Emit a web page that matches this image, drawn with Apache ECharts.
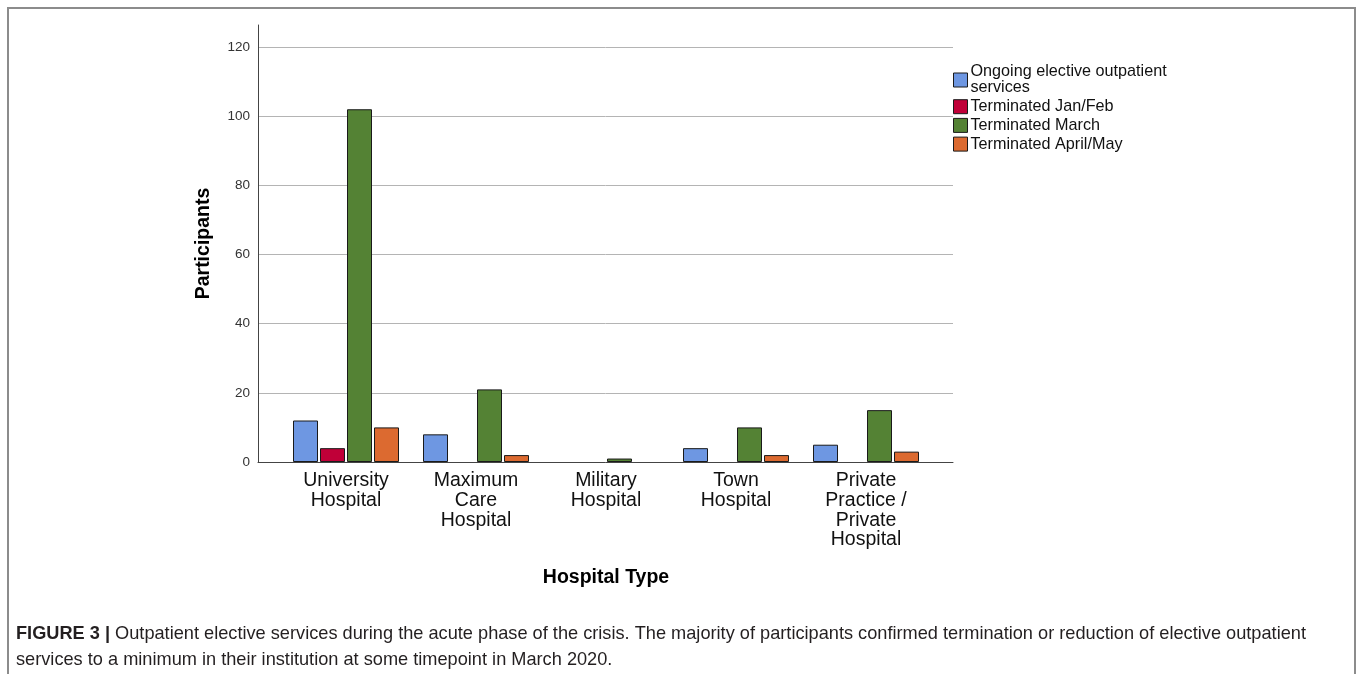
<!DOCTYPE html>
<html>
<head>
<meta charset="utf-8">
<script src="https://cdn.jsdelivr.net/npm/echarts@6/dist/echarts.min.js"></script>
<style>
  html, body { margin: 0; padding: 0; background: #fff; }
  #main { width: 1360px; height: 674px; }
</style>
</head>
<body>
<div id="main"></div>
<script>
// data
var categories = ['University\nHospital', 'Maximum\nCare\nHospital', 'Military\nHospital', 'Town\nHospital', 'Private\nPractice /\nPrivate\nHospital'];
var ongoing   = [12, 8, null, 4, 5];
var janFeb    = [4, null, null, null, null];
var march     = [102, 21, 1, 10, 15];
var aprilMay  = [10, 2, null, 2, 3];
var seriesNames = ['Ongoing elective outpatient\nservices', 'Terminated Jan/Feb', 'Terminated March', 'Terminated April/May'];
var colors = ['#6e97e2', '#c00038', '#548234', '#dc6a30'];
var yTicks = [0, 20, 40, 60, 80, 100, 120];

var FONT = '"Liberation Sans", Arial, sans-serif';
var myChart = echarts.init(document.getElementById('main'));

function barSeries(name, data, i) {
  return {
    name: name,
    type: 'bar',
    xAxisIndex: 1,
    yAxisIndex: 1,
    data: data,
    barWidth: 25,
    barGap: '8%',
    itemStyle: { color: colors[i], borderColor: '#1a1a1a', borderWidth: 1 },
    emphasis: { disabled: true }
  };
}

var option = {
  animation: false,
  textStyle: { fontFamily: FONT },
  grid: [
    { left: 258, top: 47, width: 695, height: 415 },   // gridlines + labels
    { left: 281, top: 47, width: 650, height: 415 },   // bars
    { left: 258, top: 25, width: 695, height: 437 }    // tall y axis line
  ],
  xAxis: [
    { gridIndex: 0, type: 'value', min: 0, max: 1,
      axisLine: { show: true, lineStyle: { color: '#444', width: 1 } },
      axisTick: { show: false }, axisLabel: { show: false }, splitLine: { show: false } },
    { gridIndex: 1, type: 'category', data: categories,
      name: 'Hospital Type', nameLocation: 'middle', nameGap: 106,
      nameTextStyle: { fontSize: 19.5, fontWeight: 'bold', color: '#000', fontFamily: FONT },
      axisLine: { show: false }, axisTick: { show: false },
      axisLabel: { fontSize: 19.5, lineHeight: 19.7, color: '#111', margin: 9, interval: 0, fontFamily: FONT } },
    { gridIndex: 2, type: 'value', show: false, min: 0, max: 1 }
  ],
  yAxis: [
    { gridIndex: 0, type: 'value', min: yTicks[0], max: yTicks[yTicks.length - 1], interval: 20,
      axisLine: { show: false }, axisTick: { show: false },
      axisLabel: { fontSize: 13.5, color: '#333', margin: 8, fontFamily: FONT },
      splitLine: { show: true, lineStyle: { color: '#b4b4b4', width: 1 } } },
    { gridIndex: 1, type: 'value', min: yTicks[0], max: yTicks[yTicks.length - 1], show: false },
    { gridIndex: 2, type: 'value', min: 0, max: 1,
      name: 'Participants', nameLocation: 'middle', nameGap: 44,
      nameTextStyle: { fontSize: 19.5, fontWeight: 'bold', color: '#000', fontFamily: FONT },
      axisLine: { show: true, lineStyle: { color: '#444', width: 1 } },
      axisTick: { show: false }, axisLabel: { show: false }, splitLine: { show: false } }
  ],
  legend: {
    orient: 'vertical',
    left: 953,
    top: 64,
    padding: 0,
    itemWidth: 14,
    itemHeight: 14,
    itemGap: 2.7,
    icon: 'rect',
    selectedMode: false,
    itemStyle: { borderColor: '#1a1a1a', borderWidth: 1 },
    textStyle: { fontSize: 16.2, lineHeight: 16, color: '#111', padding: [0, 0, 0, -2], fontFamily: FONT },
    data: seriesNames
  },
  graphic: [
    { type: 'rect', shape: { x: 8, y: 8, width: 1347, height: 700 },
      style: { fill: 'none', stroke: '#8c8c8c', lineWidth: 2 }, silent: true },
    { type: 'text', left: 16, top: 621, silent: true,
      style: {
        text: '{b|FIGURE 3 |} Outpatient elective services during the acute phase of the crisis. The majority of participants confirmed termination or reduction of elective outpatient\nservices to a minimum in their institution at some timepoint in March 2020.',
        fontSize: 18.2, lineHeight: 26, fill: '#231f20', fontFamily: FONT,
        rich: { b: { fontWeight: 'bold', fontSize: 18.2, fill: '#231f20', fontFamily: FONT } }
      } }
  ],
  series: [
    barSeries(seriesNames[0], ongoing, 0),
    barSeries(seriesNames[1], janFeb, 1),
    barSeries(seriesNames[2], march, 2),
    barSeries(seriesNames[3], aprilMay, 3)
  ]
};

myChart.setOption(option);
</script>
</body>
</html>
